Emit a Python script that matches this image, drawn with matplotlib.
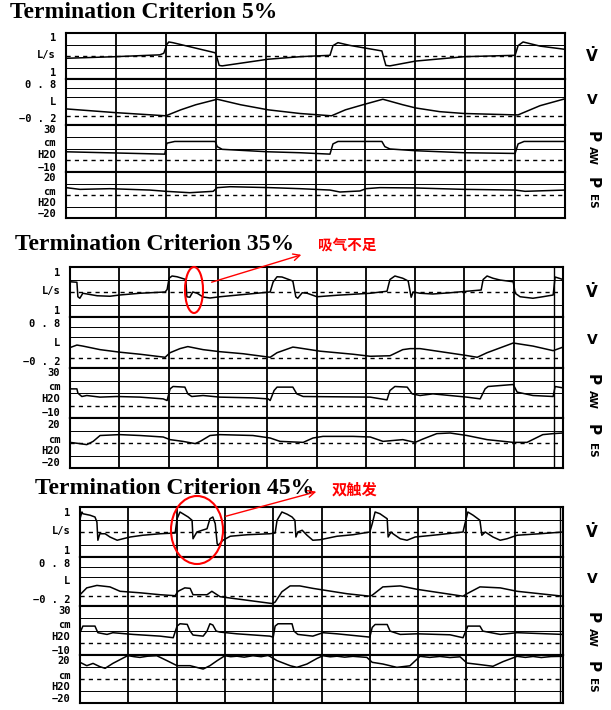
import numpy as np
import matplotlib
matplotlib.use('Agg')
import matplotlib.pyplot as plt
from matplotlib.patches import Ellipse

titles = ['Termination Criterion 5%', 'Termination Criterion 35%', 'Termination Criterion 45%']
notes = ['吸气不足', '双触发']

# x = chart divisions (0-10), y = flow L/s, volume L, Paw / Pes cmH2O
# --- 5% ---
p1_flow_t = [0.00, 0.98, 1.88, 1.96, 2.02, 2.06, 2.14, 2.99, 3.03, 3.07, 3.13, 4.05, 4.69, 5.29, 5.35,
             5.45, 5.69, 6.33, 6.37, 6.41, 6.49, 7.01, 7.98, 9.00, 9.06, 9.16, 9.50, 10.0]
p1_flow = [-0.10, -0.03, 0.05, 0.12, 0.50, 0.61, 0.58, 0.14, -0.10, -0.41, -0.43, -0.14, -0.03, 0.03, 0.45,
           0.58, 0.46, 0.22, -0.10, -0.41, -0.43, -0.22, -0.03, 0.03, 0.45, 0.61, 0.43, 0.29]
p1_vol_t = [0.00, 0.98, 2.00, 2.30, 2.60, 3.03, 3.50, 4.05, 4.69, 5.32, 5.60, 5.95, 6.35, 6.75, 7.01,
            7.49, 7.98, 9.00, 9.06, 9.50, 10.0]
p1_vol = [0.15, 0.07, 0.00, 0.13, 0.24, 0.36, 0.24, 0.13, 0.05, 0.00, 0.13, 0.24, 0.36, 0.24, 0.17,
          0.09, 0.05, 0.02, 0.02, 0.22, 0.37]
p1_paw_t = [0.00, 1.98, 2.02, 2.18, 2.99, 3.03, 3.13, 4.05, 4.69, 5.29, 5.35, 5.45, 6.33, 6.39, 6.49,
            7.01, 7.98, 9.00, 9.06, 9.18, 10.0]
p1_paw = [7.2, 5.2, 14.5, 16.0, 16.0, 11.6, 9.3, 7.2, 6.4, 5.2, 13.9, 16.0, 16.0, 11.6, 9.6,
          8.1, 6.4, 5.8, 13.9, 16.0, 16.0]
p1_pes_t = [0.00, 0.28, 0.88, 1.68, 2.00, 2.48, 2.95, 3.03, 3.29, 4.09, 4.69, 5.29, 5.49, 5.89, 6.01,
            6.29, 7.01, 7.98, 9.00, 9.20, 10.0]
p1_pes = [6.4, 4.9, 5.5, 4.3, 3.2, 2.0, 3.2, 6.4, 7.2, 6.4, 5.5, 4.3, 2.6, 3.5, 5.5,
          6.4, 6.1, 4.9, 4.3, 3.2, 4.3]

# --- 35% ---
p2_flow_t = [0.00, 0.14, 0.16, 0.20, 0.26, 0.55, 0.81, 1.01, 1.42, 1.93, 1.97, 2.01, 2.07, 2.17, 2.27,
             2.35, 2.37, 2.43, 2.49, 2.58, 2.70, 2.84, 3.04, 4.06, 4.12, 4.20, 4.30, 4.52, 4.58, 4.62,
             4.71, 4.81, 5.01, 5.42, 6.09, 6.43, 6.49, 6.59, 6.75, 6.86, 6.92, 6.96, 7.10, 7.36, 7.71,
             8.05, 8.34, 8.38, 8.46, 8.58, 8.72, 8.99, 9.03, 9.13, 9.39, 9.59, 9.80, 9.84, 10.0]
p2_flow = [0.41, 0.39, -0.19, -0.25, -0.05, -0.15, -0.17, -0.12, -0.05, 0.00, 0.10, 0.55, 0.64, 0.61, 0.55,
           0.50, -0.19, -0.21, 0.00, -0.05, -0.20, -0.24, -0.19, 0.00, 0.40, 0.61, 0.60, 0.44, -0.19, -0.25,
           -0.03, -0.05, -0.19, -0.13, -0.05, 0.03, 0.50, 0.64, 0.55, 0.44, -0.21, 0.00, -0.05, -0.08, -0.03,
           0.03, 0.08, 0.50, 0.64, 0.55, 0.48, 0.41, -0.05, -0.19, -0.25, -0.19, -0.12, 0.60, 0.50]
p2_vol_t = [0.00, 0.14, 0.26, 0.61, 1.01, 1.42, 1.93, 2.03, 2.23, 2.39, 2.70, 3.04, 3.51, 4.06, 4.20,
            4.52, 4.60, 5.07, 5.74, 6.09, 6.49, 6.75, 6.90, 7.10, 8.01, 8.26, 8.46, 8.99, 9.39, 9.80, 10.0]
p2_vol = [0.20, 0.25, 0.23, 0.16, 0.11, 0.07, 0.01, 0.10, 0.18, 0.22, 0.16, 0.12, 0.08, 0.01, 0.10,
          0.21, 0.20, 0.13, 0.07, 0.03, 0.04, 0.16, 0.18, 0.18, 0.05, 0.01, 0.10, 0.29, 0.23, 0.14, 0.21]
p2_paw_t = [0.00, 0.14, 0.16, 0.24, 0.34, 0.61, 0.95, 1.42, 1.89, 1.97, 2.03, 2.09, 2.33, 2.39, 2.47,
            2.70, 3.04, 3.71, 4.02, 4.06, 4.14, 4.20, 4.52, 4.60, 4.73, 6.09, 6.43, 6.49, 6.59, 6.84,
            6.94, 7.10, 7.36, 8.05, 8.32, 8.42, 8.48, 8.99, 9.07, 9.39, 9.80, 9.84, 10.0]
p2_paw = [13.3, 13.3, 9.9, 7.2, 8.0, 6.7, 7.2, 6.7, 5.3, 4.0, 13.3, 15.2, 14.7, 9.3, 7.2,
          8.0, 6.7, 6.1, 5.3, 4.0, 12.0, 14.7, 14.7, 9.3, 7.2, 6.7, 4.5, 12.0, 15.2, 14.7,
          9.3, 8.0, 9.3, 6.7, 5.3, 13.3, 15.2, 16.8, 10.7, 8.0, 7.2, 15.2, 14.1]
p2_pes_t = [0.00, 0.20, 0.34, 0.47, 0.61, 1.01, 1.42, 1.89, 2.03, 2.29, 2.54, 2.64, 2.84, 3.04, 3.71,
            4.06, 4.26, 4.73, 4.93, 5.13, 5.74, 6.09, 6.35, 6.75, 7.00, 7.16, 7.44, 7.71, 8.05, 8.46,
            8.99, 9.27, 9.59, 9.80, 10.0]
p2_pes = [0.5, -0.5, -1.3, 1.3, 6.0, 6.7, 6.0, 4.8, 2.7, 1.3, -0.5, 1.3, 6.0, 6.7, 6.0,
          4.0, 1.3, 0.5, 4.0, 5.3, 5.3, 4.8, 1.3, 2.7, 0.5, 3.2, 7.5, 8.0, 6.0, 2.7,
          0.5, 0.5, 6.7, 7.5, 8.0]

# --- 45% ---
p3_flow_t = [0.00, 0.04, 0.06, 0.21, 0.31, 0.35, 0.37, 0.41, 0.52, 0.62, 0.77, 0.89, 1.04, 1.30, 1.66,
             1.97, 2.01, 2.07, 2.13, 2.24, 2.32, 2.34, 2.42, 2.53, 2.63, 2.69, 2.75, 2.80, 2.84, 2.86,
             2.96, 3.11, 3.46, 3.93, 4.04, 4.08, 4.18, 4.29, 4.39, 4.45, 4.47, 4.51, 4.60, 4.70, 4.82,
             4.97, 5.32, 5.65, 6.00, 6.05, 6.11, 6.21, 6.36, 6.38, 6.44, 6.48, 6.63, 6.77, 6.94, 7.31,
             7.93, 7.97, 8.03, 8.14, 8.28, 8.32, 8.39, 8.55, 8.70, 8.84, 9.05, 9.52, 10.0]
p3_flow = [0.53, 0.80, 0.73, 0.67, 0.60, 0.40, -0.33, -0.07, -0.07, -0.20, -0.33, -0.27, -0.20, -0.13, -0.07,
           -0.04, 0.53, 0.80, 0.73, 0.60, 0.47, -0.27, 0.00, 0.07, 0.13, 0.53, 0.60, 0.33, -0.47, -0.53,
           -0.33, -0.17, -0.11, -0.07, -0.04, 0.47, 0.80, 0.71, 0.60, 0.47, -0.20, 0.00, 0.07, -0.13, -0.33,
           -0.31, -0.17, -0.11, 0.00, 0.33, 0.80, 0.73, 0.53, -0.20, 0.00, -0.07, -0.27, -0.33, -0.20, -0.13,
           0.00, 0.33, 0.80, 0.67, 0.47, -0.13, 0.00, -0.20, -0.33, -0.27, -0.13, -0.07, 0.00]
p3_vol_t = [0.00, 0.14, 0.35, 0.62, 0.83, 1.24, 1.66, 1.97, 2.03, 2.17, 2.28, 2.34, 2.63, 2.73, 2.90,
            3.98, 4.04, 4.18, 4.35, 4.55, 4.82, 5.53, 6.00, 6.05, 6.27, 6.63, 6.98, 7.93, 8.01, 8.28,
            8.70, 9.05, 10.0]
p3_vol = [0.03, 0.17, 0.22, 0.19, 0.10, 0.07, 0.03, 0.01, 0.10, 0.17, 0.16, 0.03, 0.03, 0.10, -0.01,
          -0.15, -0.12, 0.09, 0.21, 0.21, 0.16, 0.05, 0.00, 0.02, 0.19, 0.21, 0.14, 0.00, 0.05, 0.19,
          0.17, 0.10, 0.00]
p3_paw_t = [0.00, 0.06, 0.31, 0.37, 0.56, 0.68, 1.10, 1.66, 1.93, 2.01, 2.07, 2.22, 2.28, 2.34, 2.55,
            2.63, 2.69, 2.75, 2.82, 2.90, 3.25, 3.93, 4.00, 4.04, 4.10, 4.39, 4.43, 4.51, 4.82, 5.03,
            5.32, 6.00, 6.05, 6.11, 6.36, 6.42, 6.63, 6.98, 7.66, 7.93, 8.03, 8.28, 8.34, 8.70, 9.05, 10.0]
p3_paw = [8.2, 13.6, 13.6, 8.2, 6.8, 8.2, 6.8, 5.4, 4.1, 13.6, 15.5, 15.0, 9.5, 6.3, 5.4,
          9.5, 15.5, 14.5, 9.5, 8.7, 7.3, 5.4, 4.6, 13.6, 15.5, 15.5, 9.5, 6.8, 5.4, 8.2,
          7.3, 4.6, 12.5, 14.9, 14.9, 9.5, 6.8, 7.3, 6.5, 4.1, 13.6, 13.6, 9.5, 6.8, 8.2, 6.8]
p3_pes_t = [0.00, 0.14, 0.27, 0.41, 0.52, 0.68, 0.99, 1.12, 1.24, 1.40, 1.59, 1.80, 2.01, 2.28, 2.55,
            2.69, 2.84, 3.00, 3.12, 3.25, 3.40, 3.58, 3.75, 3.89, 3.93, 4.08, 4.35, 4.49, 4.70, 4.91,
            5.03, 5.18, 5.32, 5.48, 5.65, 5.94, 6.05, 6.27, 6.56, 6.83, 7.04, 7.24, 7.45, 7.66, 7.87,
            8.01, 8.28, 8.55, 8.76, 9.05, 9.22, 9.38, 9.55, 9.75, 10.0]
p3_pes = [13.9, 11.1, 13.0, 10.3, 8.9, 13.0, 19.5, 18.6, 18.0, 19.0, 19.4, 15.3, 11.1, 11.1, 8.3,
          11.1, 15.3, 19.4, 18.6, 19.0, 18.2, 19.4, 18.6, 19.6, 18.9, 15.3, 11.1, 9.7, 12.5, 17.2,
          19.4, 18.5, 19.0, 18.2, 18.9, 18.0, 13.9, 12.5, 9.7, 11.0, 18.9, 18.0, 18.8, 17.9, 18.5,
          13.3, 12.0, 10.6, 14.5, 18.9, 18.0, 18.8, 17.9, 18.7, 18.9]

panels = [
    [(p1_flow_t, p1_flow), (p1_vol_t, p1_vol), (p1_paw_t, p1_paw), (p1_pes_t, p1_pes)],
    [(p2_flow_t, p2_flow), (p2_vol_t, p2_vol), (p2_paw_t, p2_paw), (p2_pes_t, p2_pes)],
    [(p3_flow_t, p3_flow), (p3_vol_t, p3_vol), (p3_paw_t, p3_paw), (p3_pes_t, p3_pes)],
]

strip_ylim = [(-1, 1), (-0.2, 0.8), (-10, 30), (-20, 20)]
strip_grid = [[0.5, -0.5], [0.6, 0.4], [20, 10], [10, -10]]
left_labels = [
    [('1', 0.89), ('L/s', 0.52), ('1', 0.12)],
    [('0 . 8', 0.86), ('L', 0.50), ('\u22120 . 2', 0.12)],
    [('30', 0.89), ('cm', 0.61), ('H2O', 0.37), ('\u221210', 0.09)],
    [('20', 0.87), ('cm', 0.56), ('H2O', 0.33), ('\u221220', 0.09)],
]

# layout in pixels
W, H = 611, 710
panel_left = [66, 70, 80]
panel_right = [565, 563, 563]
strip_edges = [[33, 79, 125, 172, 218], [267, 317, 368, 418, 468], [507, 557, 606, 655, 703]]
extra_vline = [None, 9.82, 9.94]
title_xy = [(10, 13), (15, 245), (35, 488)]

fig = plt.figure(figsize=(W / 100, H / 100), dpi=100)

def frac(x0, x1, y0, y1):
    return [x0 / W, 1 - y1 / H, (x1 - x0) / W, (y1 - y0) / H]

lab_font = dict(family='DejaVu Sans Mono', fontweight='bold', fontsize=7.5, color='k')

for p, series in enumerate(panels):
    e = strip_edges[p]
    for s, (t, y) in enumerate(series):
        ax = fig.add_axes(frac(panel_left[p], panel_right[p], e[s], e[s + 1]))
        ax.set_xlim(0, 10)
        ax.set_ylim(*strip_ylim[s])
        ax.set_xticks([])
        ax.set_yticks([])
        for sp in ax.spines.values():
            sp.set_linewidth(1.5)
        for g in range(1, 10):
            ax.axvline(g, color='k', lw=1.3)
        if extra_vline[p]:
            ax.axvline(extra_vline[p], color='k', lw=1.0)
        for h in strip_grid[s]:
            ax.axhline(h, color='k', lw=0.7)
        ax.axhline(0, color='k', lw=1.0, ls=(0, (3, 3)))
        ax.plot(t, y, color='k', lw=1.1)

        for txt, yy in left_labels[s]:
            ax.text(-0.02, yy, txt, transform=ax.transAxes, ha='right', va='center', **lab_font)

        rx = 1 + (592 - panel_right[p]) / (panel_right[p] - panel_left[p])
        if s == 0:
            ax.text(rx, 0.52, r'$\mathbf{\dot{V}}$', transform=ax.transAxes, ha='center', va='center', fontsize=11)
        elif s == 1:
            ax.text(rx, 0.55, 'V', transform=ax.transAxes, ha='center', va='center', fontsize=10, fontweight='bold')
        else:
            sub = 'AW' if s == 2 else 'ES'
            ax.text(rx, 0.76, 'P', transform=ax.transAxes, ha='center', va='center', rotation=-90,
                    fontsize=11, fontweight='bold')
            ax.text(rx, 0.36, sub, transform=ax.transAxes, ha='center', va='center', rotation=-90,
                    fontsize=7.5, fontweight='bold')

# overlay in pixel coords for titles and red notes
ov = fig.add_axes([0, 0, 1, 1], facecolor='none')
ov.set_xlim(0, W)
ov.set_ylim(H, 0)
ov.axis('off')

for (tx, ty), ttl in zip(title_xy, titles):
    ov.text(tx, ty, ttl, family='Liberation Serif', fontweight='bold', fontsize=17, va='center', ha='left')

ov.add_patch(Ellipse((194, 290), 18, 46, fill=False, ec='red', lw=1.5))
ov.annotate('', xy=(304, 254), xytext=(209, 283),
            arrowprops=dict(arrowstyle='->', color='red', lw=1, mutation_scale=12))
ov.text(318, 245, notes[0], color='red', fontsize=10.5, family=['Noto Sans CJK SC'], va='center', fontweight='bold')

ov.add_patch(Ellipse((197, 530), 52, 68, fill=False, ec='red', lw=1.5))
ov.annotate('', xy=(319, 491), xytext=(223, 517),
            arrowprops=dict(arrowstyle='->', color='red', lw=1, mutation_scale=12))
ov.text(332, 490, notes[1], color='red', fontsize=11, family=['Noto Sans CJK SC'], va='center', fontweight='bold')

fig.savefig('out.png', dpi=100)
